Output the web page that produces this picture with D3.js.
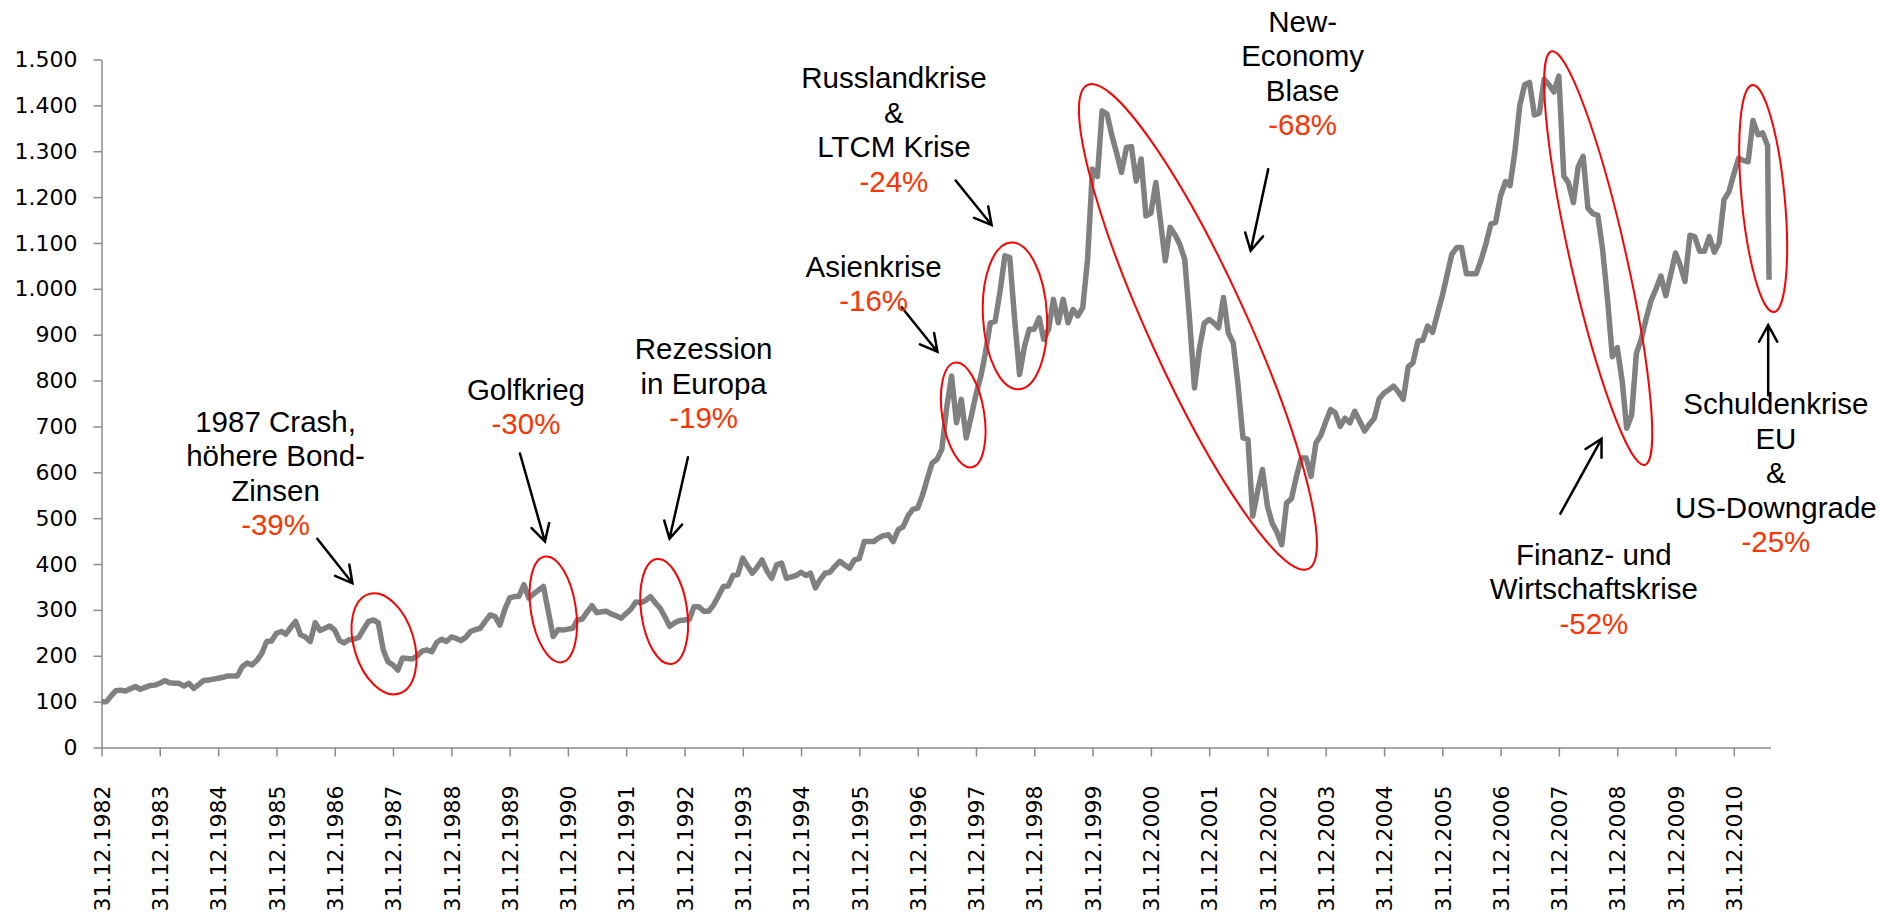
<!DOCTYPE html>
<html>
<head>
<meta charset="utf-8">
<script src="https://cdn.jsdelivr.net/npm/d3@7"></script>
<style>
  body { margin: 0; background: #fff; }
  svg { display: block; }
  .axis .tick text { font-family: "DejaVu Sans", Verdana, sans-serif; font-size: 22px; fill: #000; }
  .axis path, .axis line { stroke: #8a8a8a; stroke-width: 1.5px; }
  .note { font-family: "Liberation Sans", Arial, sans-serif; font-size: 29.5px; text-anchor: middle; }
</style>
</head>
<body>
<div id="chart"></div>
<script>
const w = 1879;
const h = 916;

// month-end index levels from 31.12.1982 on, one row = Dec .. Nov
const monthly = [
  100, 100, 112, 124, 125, 123, 128, 133, 127, 131, 135, 136,
  140, 146, 141, 140, 140, 134, 140, 129, 137, 146, 147, 149,
  151, 153, 156, 156, 156, 176, 184, 180, 190, 205, 231, 232,
  249, 253, 247, 262, 275, 246, 241, 231, 272, 255, 260, 265,
  256, 233, 228, 235, 236, 240, 258, 275, 278, 272, 213, 187,
  180, 169, 195, 194, 193, 200, 210, 213, 209, 229, 236, 231,
  241, 238, 233, 240, 253, 257, 260, 275, 289, 286, 267, 300,
  326, 329, 330, 355, 326, 335, 343, 351, 296, 242, 257, 256,
  258, 260, 278, 280, 295, 309, 294, 296, 297, 291, 287, 282,
  292, 302, 317, 316, 320, 329, 316, 304, 284, 264, 272, 277,
  278, 280, 307, 307, 297, 297, 310, 330, 351, 352, 375, 377,
  413, 395, 380, 393, 409, 385, 369, 398, 402, 369, 372, 375,
  382, 375, 380, 348, 366, 380, 382, 395, 406, 398, 391, 409,
  412, 449, 449, 449, 457, 462, 464, 449, 475, 481, 505, 519,
  522, 551, 585, 620, 628, 650, 740, 810, 708, 759, 675, 720,
  770, 810, 860, 926, 929, 995, 1072, 1068, 930, 813, 875, 912,
  912, 937, 890, 912, 977, 926, 977, 926, 955, 941, 959, 1064,
  1261, 1245, 1388, 1381, 1335, 1295, 1254, 1308, 1310, 1235, 1283, 1159,
  1165, 1232, 1150, 1061, 1134, 1118, 1097, 1064, 930, 784, 870, 925,
  933, 925, 915, 981, 904, 882, 790, 675, 672, 504, 560, 606,
  526, 488, 470, 442, 533, 543, 590, 631, 631, 591, 664, 680,
  710, 737, 730, 700, 718, 708, 733, 712, 690, 705, 718, 760,
  773, 780, 788, 775, 759, 830, 839, 886, 888, 919, 905, 945,
  985, 1032, 1075, 1090, 1090, 1033, 1033, 1033, 1063, 1098, 1141, 1145,
  1203, 1234, 1225, 1300, 1400, 1445, 1450, 1379, 1383, 1457, 1445, 1429,
  1464, 1246, 1231, 1188, 1266, 1289, 1176, 1164, 1160, 1086, 977, 852,
  872, 798, 696, 725, 860, 891, 935, 975, 1000, 1028, 985, 1030,
  1078, 1050, 1016, 1117, 1114, 1082, 1082, 1114, 1080, 1100, 1195, 1211,
  1250, 1285, 1280, 1277, 1367, 1336, 1340, 1312
];

// daily closes in August 2011
const augDays = ["2011-08-04", "2011-08-09"];
const augValues = [1166, 1020];

const yTicks = [0, 100, 200, 300, 400, 500, 600, 700, 800, 900, 1000, 1100, 1200, 1300, 1400, 1500];
const tickYears = [1982, 1983, 1984, 1985, 1986, 1987, 1988, 1989, 1990, 1991, 1992, 1993, 1994, 1995,
  1996, 1997, 1998, 1999, 2000, 2001, 2002, 2003, 2004, 2005, 2006, 2007, 2008, 2009, 2010];

// crises: black caption, red drawdown
const crisisText = [
  ["1987 Crash,", "höhere Bond-", "Zinsen"],
  ["Golfkrieg"],
  ["Rezession", "in Europa"],
  ["Asienkrise"],
  ["Russlandkrise", "&", "LTCM Krise"],
  ["New-", "Economy", "Blase"],
  ["Finanz- und", "Wirtschaftskrise"],
  ["Schuldenkrise", "EU", "&", "US-Downgrade"]
];
const crisisDrop = ["-39%", "-30%", "-19%", "-16%", "-24%", "-68%", "-52%", "-25%"];

// annotation anchors in data space: [year, level]
const textAt = [[1985.986, 688], [1990.281, 758], [1993.329, 847], [1996.245, 1026],
  [1996.593, 1437], [2003.604, 1561], [2008.600, 398], [2011.722, 727]];
const ringAt = [[1987.846, 226], [1990.750, 301], [1992.652, 296.5], [1997.782, 725],
  [1998.669, 941], [2001.808, 917], [2008.674, 1067], [2011.504, 1197]];
const ringShape = [[30, 52, -17], [22.5, 53.5, -9], [23, 53, -8], [21, 53, -9],
  [32, 73.5, -3], [49, 266, -24.5], [28, 212, -12.7], [21.5, 114, -5.4]];
const arrowFrom = [[1986.702, 455], [1990.178, 641], [1993.060, 633], [1996.726, 960],
  [1997.652, 1236], [2003.014, 1261], [2008.026, 510], [2011.590, 768]];
const arrowTo = [[1987.305, 358], [1990.607, 449], [1992.743, 455], [1997.340, 863],
  [1998.269, 1139], [2002.712, 1083], [2008.732, 673], [2011.590, 921]];

const svg = d3.select("#chart").append("svg")
  .attr("width", w)
  .attr("height", h)
  .attr("viewBox", "0 0 " + w + " " + h);

const parseDay = d3.timeParse("%Y-%m-%d");
const data = monthly.map((v, i) => ({ date: new Date(1982, 12 + i, 0), value: v }))
  .concat(augDays.map((d, i) => ({ date: parseDay(d), value: augValues[i] })));

const x = d3.scaleTime()
  .domain([new Date(1982, 11, 31), new Date(2011, 7, 18)])
  .range([101.5, 1770.5]);
const y = d3.scaleLinear().domain([0, 1500]).range([747.5, 59.5]);

// year fraction -> pixel, pinned to the 31.12. ticks
const xYear = d3.scaleLinear()
  .domain([1983, 2011])
  .range([x(new Date(1982, 11, 31)), x(new Date(2010, 11, 31))]);
const pos = (p) => [xYear(p[0]), y(p[1])];

const de = d3.formatLocale({ decimal: ",", thousands: ".", grouping: [3], currency: ["", " €"] });

svg.append("g")
  .attr("class", "axis")
  .attr("transform", "translate(101.5,0)")
  .call(d3.axisLeft(y).tickValues(yTicks).tickFormat(de.format(",")).tickSize(8).tickPadding(16).tickSizeOuter(0));

const xAxis = svg.append("g")
  .attr("class", "axis")
  .attr("transform", "translate(0,747.5)")
  .call(d3.axisBottom(x)
    .tickValues(tickYears.map((yr) => new Date(yr, 11, 31)))
    .tickFormat(d3.timeFormat("%d.%m.%Y"))
    .tickSize(9)
    .tickSizeOuter(0));

xAxis.selectAll(".tick text")
  .attr("transform", "rotate(-90)")
  .attr("text-anchor", "end")
  .attr("x", -38)
  .attr("y", 0)
  .attr("dy", "0.35em");

const line = d3.line()
  .x((d) => x(d.date))
  .y((d) => y(d.value));

svg.append("path")
  .datum(data)
  .attr("d", line)
  .attr("fill", "none")
  .attr("stroke", "#808080")
  .attr("stroke-width", 5.5)
  .attr("stroke-linejoin", "round");

// red rings round the drawdowns
ringAt.forEach((c, i) => {
  const p = pos(c);
  svg.append("ellipse")
    .attr("transform", `translate(${p[0]},${p[1]}) rotate(${ringShape[i][2]})`)
    .attr("rx", ringShape[i][0])
    .attr("ry", ringShape[i][1])
    .attr("fill", "none")
    .attr("stroke", "#ff0000")
    .attr("stroke-width", 2);
});

// arrows with open heads
const arrows = svg.append("g")
  .attr("stroke", "#000")
  .attr("stroke-width", 2.5)
  .attr("fill", "none")
  .attr("stroke-linecap", "round");

arrowFrom.forEach((a, i) => {
  const p1 = pos(a);
  const p2 = pos(arrowTo[i]);
  const ang = Math.atan2(p2[1] - p1[1], p2[0] - p1[0]);
  const len = 19;
  const spread = 0.5;
  const h1 = [p2[0] - len * Math.cos(ang - spread), p2[1] - len * Math.sin(ang - spread)];
  const h2 = [p2[0] - len * Math.cos(ang + spread), p2[1] - len * Math.sin(ang + spread)];
  arrows.append("path")
    .attr("d", `M${p1[0]},${p1[1]}L${p2[0]},${p2[1]}M${h1[0]},${h1[1]}L${p2[0]},${p2[1]}L${h2[0]},${h2[1]}`);
});

// captions
const lineGap = 34.5;
crisisText.forEach((lines, i) => {
  const p = pos(textAt[i]);
  const t = svg.append("text").attr("class", "note");
  lines.forEach((s, j) => {
    t.append("tspan").attr("x", p[0]).attr("y", p[1] + j * lineGap).attr("fill", "#000").text(s);
  });
  t.append("tspan")
    .attr("x", p[0])
    .attr("y", p[1] + lines.length * lineGap)
    .attr("fill", "#ff3300")
    .text(crisisDrop[i]);
});
</script>
</body>
</html>
